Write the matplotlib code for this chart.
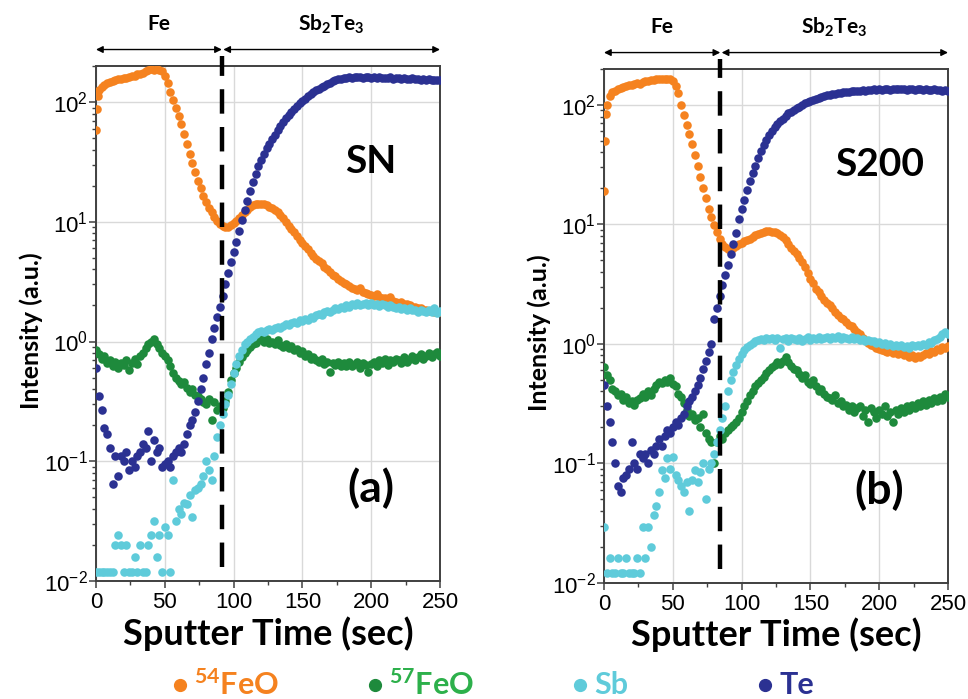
import numpy as np
import matplotlib
matplotlib.use("Agg")
import matplotlib.pyplot as plt
from matplotlib.lines import Line2D
import matplotlib.transforms as mtransforms

plt.rcParams["font.family"] = ["Liberation Sans", "DejaVu Sans"]
plt.rcParams["mathtext.fontset"] = "custom"
plt.rcParams["mathtext.rm"] = "Liberation Sans"
plt.rcParams["mathtext.bf"] = "Lato:bold"

# sputter time grid (s)
time_s = np.arange(0, 251, 2)

# ---------------- sample SN ----------------
fe54_sn = [58, 125, 133, 140, 143, 148, 150, 152, 155, 157,
           160, 158, 163, 165, 166, 170, 172, 175, 182, 185,
           188, 186, 190, 186, 182, 165, 145, 122, 105, 90,
           76, 65, 54, 45, 37, 31, 26, 22, 19, 16.5,
           14.5, 13, 12, 11, 10.2, 9.6, 9.3, 9.0, 9.1, 9.4,
           9.8, 10.2, 10.7, 11.3, 12, 12.6, 13.2, 13.7, 14, 14.2,
           14.1, 14, 13.8, 13.4, 13, 12.5, 12, 11.5, 10.8, 10,
           9.3, 8.7, 8.2, 7.6, 7.1, 6.7, 6.3, 5.9, 5.5, 5.2,
           4.9, 4.7, 4.5, 4.2, 4.0, 3.8, 3.6, 3.5, 3.3, 3.2,
           3.1, 3.0, 2.9, 2.8, 2.75, 2.7, 2.8, 2.6, 2.55, 2.5,
           2.45, 2.4, 2.5, 2.35, 2.3, 2.3, 2.25, 2.35, 2.2, 2.15,
           2.1, 2.15, 2.05, 2.05, 2.0, 1.95, 1.95, 1.9, 1.9, 1.85,
           1.85, 1.8, 1.8, 1.78, 1.75, 1.75]
fe54_sn_onset_t = [0.6, 1.2]
fe54_sn_onset = [88, 113]

fe57_sn = [0.85, 0.78, 0.72, 0.75, 0.66, 0.7, 0.62, 0.68, 0.6, 0.66,
           0.64, 0.7, 0.58, 0.66, 0.72, 0.65, 0.75, 0.8, 0.88, 0.95,
           1.0, 1.05, 0.95, 0.88, 0.8, 0.75, 0.7, 0.62, 0.55, 0.5,
           0.47, 0.44, 0.46, 0.41, 0.38, 0.4, 0.36, 0.35, 0.33, 0.31,
           0.3, 0.33, 0.22, 0.31, 0.27, 0.29, 0.28, 0.32, 0.38, 0.48,
           0.55, 0.6, 0.68, 0.74, 0.8, 0.85, 0.9, 0.95, 0.98, 1.02,
           1.05, 1.0, 1.04, 0.98, 1.0, 0.95, 1.02, 0.93, 0.9, 0.95,
           0.88, 0.92, 0.85, 0.86, 0.8, 0.83, 0.76, 0.78, 0.72, 0.74,
           0.7, 0.68, 0.72, 0.65, 0.68, 0.56, 0.66, 0.64, 0.68, 0.62,
           0.66, 0.63, 0.67, 0.62, 0.65, 0.68, 0.6, 0.66, 0.64, 0.56,
           0.65, 0.68, 0.63, 0.7, 0.66, 0.72, 0.64, 0.7, 0.68, 0.72,
           0.7, 0.66, 0.74, 0.68, 0.72, 0.76, 0.7, 0.74, 0.78, 0.72,
           0.76, 0.8, 0.74, 0.78, 0.82, 0.76]

sb_sn = [0.012, 0.012, 0.012, 0.012, 0.012, 0.012, 0.012, 0.02, 0.024, 0.02,
         0.012, 0.02, 0.012, 0.012, 0.016, 0.012, 0.02, 0.012, 0.012, 0.02,
         0.024, 0.032, 0.016, 0.024, 0.012, 0.028, 0.024, 0.012, 0.07, 0.032,
         0.04, 0.036, 0.045, 0.044, 0.052, 0.034, 0.058, 0.06, 0.065, 0.075,
         0.1, 0.085, 0.07, 0.11, 0.16, 0.2, 0.25, 0.3, 0.36, 0.44,
         0.55, 0.65, 0.75, 0.85, 0.95, 1.0, 1.05, 1.1, 1.15, 1.2,
         1.22, 1.2, 1.25, 1.28, 1.25, 1.3, 1.32, 1.3, 1.35, 1.4,
         1.38, 1.42, 1.45, 1.43, 1.5, 1.48, 1.55, 1.52, 1.6, 1.58,
         1.65, 1.7, 1.68, 1.75, 1.8, 1.78, 1.85, 1.9, 1.88, 1.95,
         1.92, 2.0, 1.95, 2.05, 2.0, 2.1, 2.0, 2.05, 2.1, 2.0,
         2.08, 2.02, 2.05, 1.98, 2.06, 2.0, 1.95, 2.02, 1.95, 1.9,
         1.95, 1.88, 1.9, 1.85, 1.92, 1.82, 1.85, 1.78, 1.85, 1.8,
         1.75, 1.82, 1.78, 1.9, 1.72, 1.8]

te_sn = [0.6, 0.35, 0.27, 0.19, 0.17, 0.13, 0.065, 0.11, 0.075, 0.11,
         0.1, 0.12, 0.085, 0.1, 0.09, 0.11, 0.12, 0.14, 0.13, 0.18,
         0.1, 0.15, 0.12, 0.13, 0.09, 0.095, 0.1, 0.09, 0.11, 0.12,
         0.13, 0.12, 0.14, 0.17, 0.2, 0.22, 0.26, 0.32, 0.4, 0.5,
         0.65, 0.8, 1.05, 1.3, 1.6, 1.95, 2.4, 3.0, 3.7, 4.6,
         5.6, 6.8, 8.3, 10.3, 12.5, 15, 18, 21.5, 25, 29,
         33, 37, 41, 45, 49, 53, 58, 63, 68, 73,
         78, 83, 88, 93, 98, 103, 107, 112, 116, 121,
         125, 129, 133, 137, 141, 145, 149, 152, 155, 157,
         159, 160, 161, 160, 162, 161, 163, 160, 162, 161,
         160, 162, 159, 161, 160, 158, 160, 161, 157, 159,
         158, 156, 159, 157, 156, 158, 155, 157, 154, 156,
         153, 155, 153, 152, 154, 152]

# ---------------- sample S200 ----------------
fe54_s200 = [19, 100, 118, 128, 132, 136, 139, 141, 143, 146,
             148, 150, 152, 150, 155, 158, 160, 162, 163, 165,
             165, 166, 164, 166, 164, 160, 145, 125, 100, 82,
             68, 57, 47, 38, 31, 25, 20, 16.5, 13.5, 11.5,
             9.8, 8.6, 7.6, 6.9, 6.5, 6.2, 6.1, 6.3, 6.6, 6.8,
             7.0, 7.2, 7.4, 7.6, 7.9, 8.1, 8.3, 8.5, 8.7, 8.8,
             8.8, 8.7, 8.6, 8.4, 8.1, 7.8, 7.4, 6.9, 6.4, 6.0,
             5.6, 5.2, 4.8, 4.4, 3.9, 3.5, 3.2, 2.9, 2.7, 2.5,
             2.35, 2.2, 2.1, 2.0, 1.85, 1.75, 1.65, 1.6, 1.52, 1.45,
             1.4, 1.33, 1.25, 1.2, 1.12, 1.08, 1.02, 0.98, 0.95, 0.92,
             0.9, 0.88, 0.87, 0.86, 0.88, 0.84, 0.86, 0.82, 0.85, 0.8,
             0.82, 0.78, 0.8, 0.76, 0.79, 0.77, 0.8, 0.84, 0.82, 0.87,
             0.85, 0.9, 0.88, 0.94, 0.92, 0.95]
fe54_s200_onset_t = [0.7, 1.4]
fe54_s200_onset = [50, 84]

fe57_s200 = [0.64, 0.55, 0.5, 0.42, 0.4, 0.37, 0.38, 0.34, 0.36, 0.32,
             0.33, 0.31, 0.34, 0.35, 0.38, 0.36, 0.4, 0.37, 0.42, 0.45,
             0.48, 0.47, 0.5, 0.48, 0.52, 0.46, 0.44, 0.38, 0.36, 0.32,
             0.28, 0.25, 0.26, 0.23, 0.24, 0.2, 0.26, 0.18, 0.16, 0.15,
             0.1, 0.15, 0.17, 0.16, 0.18, 0.19, 0.2, 0.21, 0.22, 0.24,
             0.27, 0.3, 0.33, 0.37, 0.4, 0.44, 0.47, 0.5, 0.53, 0.57,
             0.6, 0.64, 0.66, 0.7, 0.68, 0.72, 0.78, 0.7, 0.65, 0.62,
             0.6, 0.56, 0.52, 0.55, 0.48, 0.46, 0.5, 0.44, 0.4, 0.42,
             0.38, 0.36, 0.35, 0.34, 0.37, 0.32, 0.33, 0.3, 0.31, 0.28,
             0.3, 0.27, 0.29, 0.3, 0.25, 0.28, 0.22, 0.29, 0.27, 0.24,
             0.28, 0.26, 0.3, 0.25, 0.27, 0.22, 0.28, 0.26, 0.29, 0.27,
             0.3, 0.28, 0.31, 0.29, 0.32, 0.3, 0.33, 0.31, 0.34, 0.32,
             0.35, 0.33, 0.36, 0.34, 0.38, 0.36]

sb_s200 = [0.029, 0.012, 0.016, 0.012, 0.012, 0.016, 0.012, 0.012, 0.016, 0.012,
           0.012, 0.012, 0.016, 0.012, 0.029, 0.016, 0.029, 0.02, 0.037, 0.044,
           0.058, 0.088, 0.075, 0.11, 0.09, 0.113, 0.08, 0.072, 0.065, 0.058,
           0.07, 0.04, 0.072, 0.088, 0.07, 0.085, 0.1, 0.05, 0.09, 0.1,
           0.12, 0.15, 0.19, 0.24, 0.3, 0.4, 0.5, 0.58, 0.66, 0.74,
           0.82, 0.88, 0.94, 0.98, 1.02, 1.05, 1.08, 1.1, 1.08, 1.12,
           1.1, 1.12, 1.08, 1.12, 0.92, 1.1, 1.12, 1.06, 1.12, 1.1,
           1.08, 1.12, 1.06, 1.1, 1.14, 1.08, 1.12, 1.1, 1.15, 1.1,
           1.12, 1.15, 1.1, 1.14, 1.12, 1.16, 1.1, 1.14, 1.12, 1.1,
           1.14, 1.1, 1.12, 1.08, 1.1, 1.06, 1.08, 1.05, 1.06, 1.02,
           1.04, 1.0, 1.02, 0.98, 1.0, 0.96, 0.98, 0.95, 0.97, 0.94,
           0.96, 0.93, 0.97, 0.95, 0.98, 0.96, 1.0, 0.98, 1.04, 1.02,
           1.08, 1.1, 1.15, 1.2, 1.25, 1.22]

te_s200 = [0.45, 0.3, 0.22, 0.15, 0.1, 0.065, 0.057, 0.075, 0.08, 0.09,
           0.15, 0.1, 0.09, 0.12, 0.11, 0.12, 0.1, 0.13, 0.12, 0.14,
           0.16, 0.14, 0.17, 0.19, 0.18, 0.2, 0.22, 0.21, 0.24, 0.26,
           0.3, 0.33, 0.36, 0.4, 0.45, 0.52, 0.62, 0.72, 0.85, 1.0,
           1.6, 2.0, 2.5, 3.1, 3.8, 4.6, 5.6, 6.8, 8.5, 11,
           13.5, 16, 19.5, 23, 27, 31, 36, 41, 46, 51,
           56, 60, 65, 69, 73, 77, 81, 85, 88, 91,
           94, 97, 100, 103, 105, 108, 110, 112, 114, 116,
           118, 120, 121, 123, 124, 125, 127, 128, 128, 129,
           130, 131, 130, 132, 133, 132, 134, 133, 135, 134,
           135, 134, 136, 135, 134, 136, 135, 137, 135, 136,
           134, 136, 135, 134, 136, 135, 133, 135, 134, 133,
           135, 133, 134, 132, 133, 132]

# layer boundary (s)
boundary_sn = 91.5
boundary_s200 = 84.5

series_labels = [r"$\mathbf{^{54}}$FeO", r"$\mathbf{^{57}}$FeO", "Sb", "Te"]
marker_colors = ["#F5821F", "#1E8A3C", "#5FCBDA", "#2B3192"]
legend_text_colors = ["#F5821F", "#2DB04B", "#5FCBDA", "#2B3192"]
legend_x_px = [180, 375, 580, 765]

BOLD = ["Lato", "DejaVu Sans"]

fig = plt.figure(figsize=(9.68, 6.99), dpi=100)
W, H = 968.0, 699.0


def px_axes(left, top, right, bottom):
    return fig.add_axes([left / W, 1 - bottom / H, (right - left) / W, (bottom - top) / H])


def draw_panel(ax, fe54, fe57, sb, te, onset_t, onset, boundary, name, tag):
    s = 38
    ax.scatter(time_s, fe54, s=s, color=marker_colors[0], lw=0, zorder=3)
    ax.scatter(onset_t, onset, s=s, color=marker_colors[0], lw=0, zorder=3)
    ax.scatter(time_s, fe57, s=s, color=marker_colors[1], lw=0, zorder=4)
    ax.scatter(time_s, sb, s=s, color=marker_colors[2], lw=0, zorder=5)
    ax.scatter(time_s, te, s=s, color=marker_colors[3], lw=0, zorder=6)

    ax.set_yscale("log")
    ax.set_ylim(0.01, 200)
    ax.set_xlim(0, 250)
    ax.set_xticks([0, 50, 100, 150, 200, 250])
    ax.set_xticks([25, 75, 125, 175, 225], minor=True)
    ax.grid(True, which="major", color="#D9D9D9", lw=1.0, zorder=0)
    ax.set_axisbelow(True)
    for sp in ax.spines.values():
        sp.set_color("#404040")
        sp.set_linewidth(1.4)
    ax.tick_params(axis="both", which="major", direction="out", length=5, width=1.1,
                   color="#404040", labelsize=16, pad=3)
    ax.tick_params(axis="both", which="minor", direction="out", length=3, width=1.0,
                   color="#404040")
    ax.tick_params(axis="y", which="major", pad=1)

    ax.set_xlabel("Sputter Time (sec)", family=BOLD, fontweight="bold", fontsize=26, labelpad=2)
    ax.set_ylabel("Intensity (a.u.)", family=BOLD, fontweight="bold", fontsize=18)
    ax.yaxis.set_label_coords(-0.155, 0.487)

    # layer boundary
    trans = mtransforms.blended_transform_factory(ax.transData, ax.transAxes)
    ax.plot([boundary, boundary], [0.027, 1.02], transform=trans, color="black", lw=3.2,
            dashes=(5.5, 3.0), clip_on=False, zorder=8)

    # layer arrows and names
    y_arr = 1.032
    ax.annotate("", xy=(0, y_arr), xytext=(boundary, y_arr), xycoords=trans, textcoords=trans,
                arrowprops=dict(arrowstyle="<|-|>", color="black", lw=1.0,
                                mutation_scale=10, shrinkA=0, shrinkB=0))
    ax.annotate("", xy=(boundary + 1, y_arr), xytext=(250, y_arr), xycoords=trans, textcoords=trans,
                arrowprops=dict(arrowstyle="<|-|>", color="black", lw=1.0,
                                mutation_scale=10, shrinkA=0, shrinkB=0))
    ax.text(boundary / 2, 1.082, "Fe", transform=trans, ha="center", va="center",
            family=BOLD, fontweight="bold", fontsize=15)
    ax.text((boundary + 250) / 2, 1.082, r"Sb$_{\mathbf{2}}$Te$_{\mathbf{3}}$", transform=trans,
            ha="center", va="center", family=BOLD, fontweight="bold", fontsize=15)

    ax.text(0.80, 0.814, name, transform=ax.transAxes, ha="center", va="center",
            family=BOLD, fontweight="bold", fontsize=28)
    ax.text(0.80, 0.18, tag, transform=ax.transAxes, ha="center", va="center",
            family=BOLD, fontweight="bold", fontsize=32)


ax1 = px_axes(96, 66, 440, 581)
ax2 = px_axes(604, 69, 948, 582.7)
draw_panel(ax1, fe54_sn, fe57_sn, sb_sn, te_sn, fe54_sn_onset_t, fe54_sn_onset,
           boundary_sn, "SN", "(a)")
draw_panel(ax2, fe54_s200, fe57_s200, sb_s200, te_s200, fe54_s200_onset_t, fe54_s200_onset,
           boundary_s200, "S200", "(b)")

# series key along the bottom edge
y_key = 1 - 685 / H
for xp, lab, mc, tc in zip(legend_x_px, series_labels, marker_colors, legend_text_colors):
    fig.add_artist(Line2D([xp / W], [y_key], ls="none", marker="o", markersize=8.5,
                          color=mc, transform=fig.transFigure))
    fig.text((xp + 14) / W, y_key, lab, color=tc, ha="left", va="center",
             family=BOLD, fontweight="bold", fontsize=22)

fig.savefig("out.png", dpi=100)
